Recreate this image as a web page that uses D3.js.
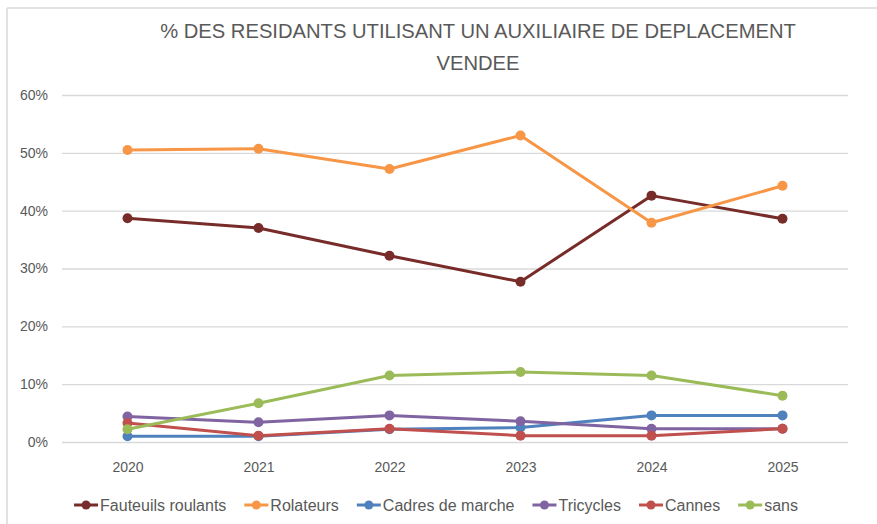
<!DOCTYPE html>
<html>
<head>
<meta charset="utf-8">
<script src="https://cdn.jsdelivr.net/npm/d3@7"></script>
<style>
  body { margin: 0; background: #fff; }
  svg text { font-family: "Liberation Sans Narrow", "Arial Narrow", "Liberation Sans", sans-serif; fill: #595959; }
</style>
</head>
<body>
<script>
// Chart data (percent of residents)
var years = ["2020", "2021", "2022", "2023", "2024", "2025"];
var seriesNames = ["Fauteuils roulants", "Rolateurs", "Cadres de marche", "Tricycles", "Cannes", "sans"];
var fauteuils = [38.7, 37.0, 32.2, 27.7, 42.6, 38.6];
var rolateurs = [50.5, 50.7, 47.2, 53.0, 37.9, 44.3];
var cadres    = [1.0, 1.0, 2.2, 2.5, 4.6, 4.6];
var tricycles = [4.4, 3.4, 4.6, 3.6, 2.3, 2.3];
var cannes    = [3.3, 1.1, 2.3, 1.1, 1.1, 2.3];
var sans      = [2.2, 6.7, 11.5, 12.1, 11.5, 8.0];
var yTicks = [0, 10, 20, 30, 40, 50, 60];
var colors = ["#772C2A", "#F79646", "#4F81BD", "#8064A2", "#C0504D", "#9BBB59"];

var allValues = [fauteuils, rolateurs, cadres, tricycles, cannes, sans];
var dataset = seriesNames.map((name, i) => ({
  name: name,
  color: colors[i],
  values: years.map((y, j) => ({year: y, value: allValues[i][j]}))
}));

var W = 877, H = 524;
var margin = {top: 95, left: 62, right: 29, bottom: 82};

var svg = d3.select("body").append("svg")
            .attr("width", W)
            .attr("height", H);

// light frame (top and left edges only visible)
svg.append("line").attr("x1", 7).attr("x2", W).attr("y1", 8).attr("y2", 8)
   .attr("stroke", "#d9d9d9").attr("stroke-width", 1.5);
svg.append("line").attr("x1", 7).attr("x2", 7).attr("y1", 8).attr("y2", H)
   .attr("stroke", "#d9d9d9").attr("stroke-width", 1.5);

var xScale = d3.scalePoint()
               .domain(years)
               .range([margin.left, W - margin.right])
               .padding(0.5);

var yScale = d3.scaleLinear()
               .domain([0, 60])
               .range([H - margin.bottom, margin.top]);

// gridlines + y labels
var yAxis = d3.axisLeft(yScale)
              .tickValues(yTicks)
              .tickSize(-(W - margin.right - margin.left))
              .tickFormat(d => d + "%");

var gy = svg.append("g")
            .attr("transform", "translate(" + margin.left + ",0)")
            .call(yAxis);
gy.select(".domain").remove();
gy.selectAll(".tick line").attr("stroke", "#d9d9d9").attr("stroke-width", 1.3);
gy.selectAll(".tick text").attr("x", -14).style("font-size", "14px");

// x labels
var xAxis = d3.axisBottom(xScale).tickSize(0);
var gx = svg.append("g")
            .attr("transform", "translate(0," + (H - margin.bottom) + ")")
            .call(xAxis);
gx.select(".domain").remove();
gx.selectAll(".tick text").attr("dy", "1.9em").style("font-size", "14px");

// lines
var line = d3.line()
             .x(d => xScale(d.year))
             .y(d => yScale(d.value));

var series = svg.selectAll(".series")
                .data(dataset)
                .enter()
                .append("g")
                .attr("class", "series");

series.append("path")
      .attr("d", d => line(d.values))
      .attr("fill", "none")
      .attr("stroke", d => d.color)
      .attr("stroke-width", 3)
      .attr("stroke-linejoin", "round");

series.selectAll("circle")
      .data(d => d.values.map(v => ({year: v.year, value: v.value, color: d.color})))
      .enter()
      .append("circle")
      .attr("cx", d => xScale(d.year))
      .attr("cy", d => yScale(d.value))
      .attr("r", 5)
      .attr("fill", d => d.color);

// title
var title = svg.append("text")
               .attr("x", 478)
               .attr("y", 38)
               .attr("text-anchor", "middle")
               .style("font-size", "20.2px");
title.append("tspan").attr("x", 478).text("% DES RESIDANTS UTILISANT UN AUXILIAIRE DE DEPLACEMENT");
title.append("tspan").attr("x", 478).attr("dy", 32).text("VENDEE");

// legend, centred on the frame
var legend = svg.append("g").attr("transform", "translate(0,505)");
var lx = 0, items = [];
dataset.forEach(d => {
  var item = legend.append("g").attr("transform", "translate(" + lx + ",0)");
  item.append("line").attr("x1", 0).attr("x2", 24).attr("y1", 0).attr("y2", 0)
      .attr("stroke", d.color).attr("stroke-width", 3);
  item.append("circle").attr("cx", 12).attr("cy", 0).attr("r", 4.5).attr("fill", d.color);
  var t = item.append("text").attr("x", 26).attr("y", 5.5).style("font-size", "16px").text(d.name);
  lx += 26 + t.node().getComputedTextLength() + 18;
});
var legendW = lx - 18;
legend.attr("transform", "translate(" + (436 - legendW / 2) + ",505)");
</script>
</body>
</html>
